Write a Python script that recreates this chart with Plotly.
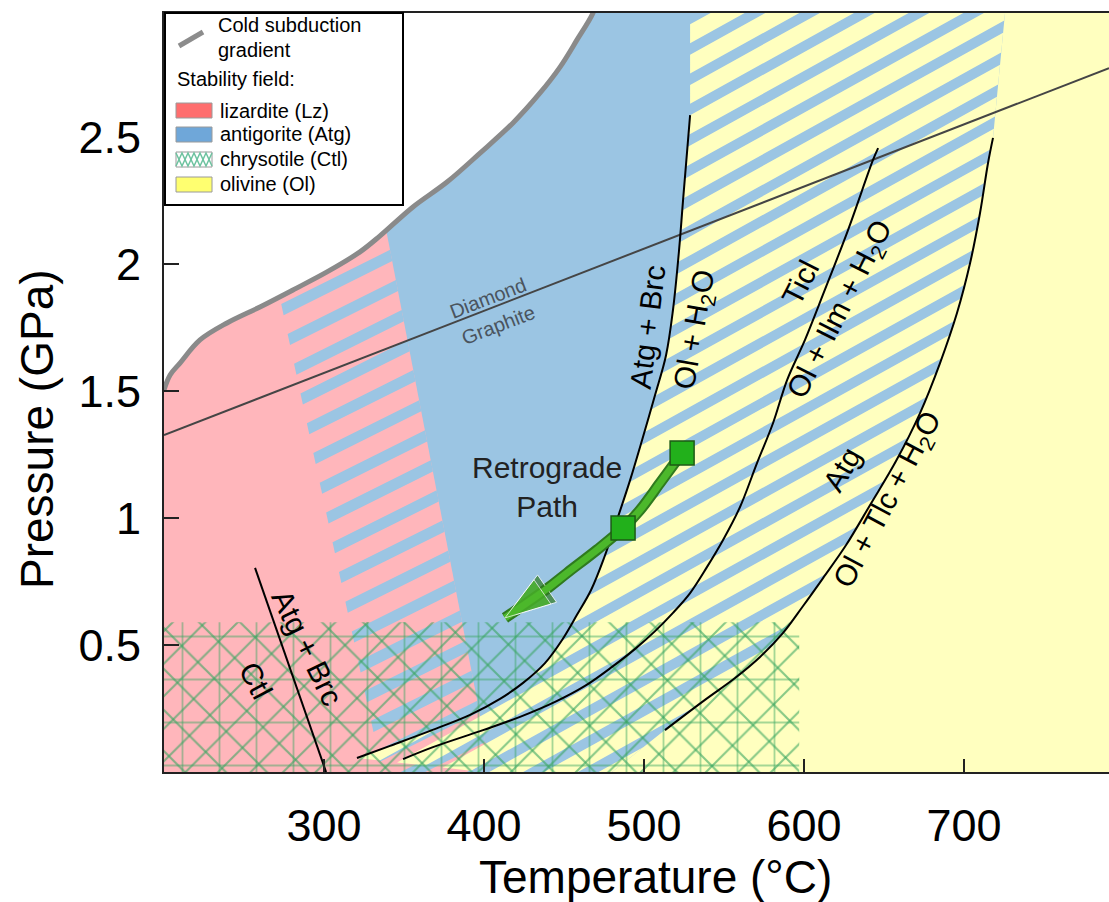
import math
import plotly.graph_objects as go

# ---------------- values ----------------
T_MIN, T_MAX = 200.0, 790.6
P_MIN, P_MAX = 0.0, 2.99

x_ticks = [300, 400, 500, 600, 700]
y_ticks = [0.5, 1, 1.5, 2, 2.5]
y_tick_text = ["0.5", "1", "1.5", "2", "2.5"]

# cold subduction gradient
grad_T = [200, 203.8, 210, 222.5, 239.4, 260, 280.6, 301.9, 322.5, 335, 355.6,
          376.9, 397.5, 418.1, 435, 447.5, 458.1, 468.1, 471]
grad_P = [1.505, 1.564, 1.611, 1.702, 1.769, 1.832, 1.899, 1.970, 2.049, 2.112, 2.226,
          2.324, 2.438, 2.557, 2.675, 2.777, 2.884, 2.990, 3.05]

# diamond / graphite transition
dg_T = [200, 790.6]
dg_P = [1.327, 2.773]

# Atg + Brc = Ol + H2O
c1_T = [528.8, 524.4, 521.9, 518.1, 513.8, 506.9, 498.8, 491.3, 483.1, 475.0,
        466.9, 458.1, 448.8, 438.1, 424.4, 410.0, 391.3, 366.3, 341.3, 320.6]
c1_P = [2.588, 2.253, 2.056, 1.820, 1.643, 1.485, 1.308, 1.150, 0.993, 0.843,
        0.717, 0.619, 0.520, 0.429, 0.351, 0.288, 0.225, 0.162, 0.103, 0.055]

# Ticl = Ol + Ilm + H2O
c2_T = [646.3, 643.1, 627.5, 612.5, 600.6, 589.4, 580.6, 570.6, 560.0, 549.4, 539.4,
        528.8, 518.1, 506.9, 495.0, 480.0, 463.1, 444.4, 422.5, 399.4, 368.1, 349.4]
c2_P = [2.458, 2.411, 2.135, 1.891, 1.702, 1.544, 1.374, 1.217, 1.044, 0.914, 0.808,
        0.705, 0.627, 0.555, 0.488, 0.414, 0.339, 0.276, 0.217, 0.165, 0.098, 0.051]

# Atg = Ol + Tlc + H2O
c3_T = [718.1, 715.0, 710.0, 703.8, 695.6, 685.0, 672.5, 657.5, 641.3, 626.3,
        611.9, 599.4, 586.9, 572.5, 556.9, 538.1, 513.1]
c3_P = [2.498, 2.399, 2.202, 2.005, 1.808, 1.611, 1.414, 1.225, 1.052, 0.894,
        0.764, 0.654, 0.548, 0.453, 0.370, 0.284, 0.165]

# Atg + Brc = Ctl
ctl_T = [256.9, 301.3]
ctl_P = [0.804, 0.0]

# field outlines
lz_edge_T = [404.4, 312.6]                  # right edge of the lizardite field (P = 0 .. P_MAX)
lz_band_T = [273.1, 341.3, 404.4, 336.3]    # Lz -> Atg transition band
lz_band_P = [1.848, 2.057, 0.0, 0.0]
atg_top_T = [528.8, 725.6]                  # Atg -> Ol band corners at the top
atg_foot_T = [399.4, 480.0]                 # Atg -> Ol band feet at P = 0
ctl_field_T = [200, 597]
ctl_field_P = [0.0, 0.59]

# retrograde path
retro_T = [523.8, 510.0, 497.5, 486.9, 470.6, 451.9, 440.0, 413.1]
retro_P = [1.257, 1.138, 1.032, 0.961, 0.875, 0.784, 0.725, 0.607]
sq_T = [523.8, 486.9]
sq_P = [1.257, 0.961]

# legend entries
legend_fields = ["lizardite (Lz)", "antigorite (Atg)", "chrysotile (Ctl)", "olivine (Ol)"]
legend_colors = ["#ff6e6e", "#6fa7d9", "white", "#ffff70"]

# ---------------- style ----------------
W, H = 1109, 902
ML, MR, MT, MB = 164, 0, 13, 130
PW, PH = W - ML - MR, H - MT - MB
FONT = "Liberation Sans, Arial, sans-serif"
PINK, BLUE, YELLOW = "#ffb6bb", "#9bc5e3", "#ffffbf"
MESH = "rgb(55,165,95)"


def to_px(t, p):
    return ((t - T_MIN) / (T_MAX - T_MIN) * PW, (P_MAX - p) / (P_MAX - P_MIN) * PH)


def to_data(x, y):
    return (T_MIN + x / PW * (T_MAX - T_MIN), P_MAX - y / PH * (P_MAX - P_MIN))


def pp(x, y):
    """page pixel -> paper coordinates"""
    return ((x - ML) / PW, (MT + PH - y) / PH)


def clip_half(poly, nx, ny, sgn, c):
    out = []
    n = len(poly)
    for i in range(n):
        p, q = poly[i], poly[(i + 1) % n]
        fp = sgn * (nx * p[0] + ny * p[1] - c)
        fq = sgn * (nx * q[0] + ny * q[1] - c)
        if fp >= 0:
            out.append(p)
        if (fp >= 0) != (fq >= 0):
            t = fp / (fp - fq)
            out.append((p[0] + t * (q[0] - p[0]), p[1] + t * (q[1] - p[1])))
    return out


def stripes(Ts, Ps, angle, period, width, anchor=None):
    nx, ny = math.sin(math.radians(angle)), math.cos(math.radians(angle))
    poly = [to_px(t, p) for t, p in zip(Ts, Ps)]
    s0 = 0.0 if anchor is None else nx * poly[anchor][0] + ny * poly[anchor][1]
    svals = [nx * x + ny * y for x, y in poly]
    k0 = math.floor((min(svals) - s0) / period) - 1
    k1 = math.ceil((max(svals) - s0) / period) + 1
    xs, ys = [], []
    for k in range(k0, k1 + 1):
        a = s0 + k * period
        piece = clip_half(clip_half(poly, nx, ny, 1, a), nx, ny, -1, a + width)
        if len(piece) >= 3:
            for x, y in piece + [piece[0]]:
                t, p = to_data(x, y)
                xs.append(t)
                ys.append(p)
            xs.append(None)
            ys.append(None)
    return xs, ys


fig = go.Figure()


def fill_trace(xs, ys, color, **kw):
    fig.add_trace(go.Scatter(x=xs, y=ys, mode="lines", fill="toself", fillcolor=color,
                             line=dict(width=0), hoverinfo="skip", showlegend=False, **kw))


# olivine background
fill_trace([T_MIN, T_MAX, T_MAX, T_MIN], [P_MIN, P_MIN, P_MAX, P_MAX], YELLOW)
# antigorite
fill_trace([T_MIN, T_MIN, atg_top_T[1]] + c3_T + [atg_foot_T[1]],
           [P_MIN, P_MAX, P_MAX] + c3_P + [P_MIN], BLUE)
# lizardite
fill_trace([T_MIN, lz_edge_T[0], lz_edge_T[1], T_MIN], [P_MIN, P_MIN, P_MAX, P_MAX], PINK)
# Lz/Atg transition stripes
sx, sy = stripes(lz_band_T, lz_band_P, 26.5, 29.5, 11, anchor=1)
fill_trace(sx, sy, BLUE)
# Atg/Ol transition stripes
band_T = [atg_top_T[0], atg_top_T[1]] + c3_T + [atg_foot_T[1], atg_foot_T[0]] + c1_T[::-1]
band_P = [P_MAX, P_MAX] + c3_P + [P_MIN, P_MIN] + c1_P[::-1]
sx, sy = stripes(band_T, band_P, 29, 26.5, 16.5)
fill_trace(sx, sy, YELLOW)
# white region above the cold subduction gradient
fill_trace(grad_T + [grad_T[-1], T_MIN - 10, T_MIN - 10],
           grad_P + [3.3, 3.3, grad_P[0]], "white")
# chrysotile texture
rect_T = [ctl_field_T[0], ctl_field_T[1], ctl_field_T[1], ctl_field_T[0], ctl_field_T[0]]
rect_P = [ctl_field_P[0], ctl_field_P[0], ctl_field_P[1], ctl_field_P[1], ctl_field_P[0]]
for shp, sz, sol, op in [("/", 23, 0.09, 0.6), ("\\", 29, 0.075, 0.6),
                         ("|", 37, 0.05, 0.45), ("-", 43, 0.045, 0.45)]:
    fill_trace(rect_T, rect_P, "rgba(0,0,0,0)",
               fillpattern=dict(shape=shp, fgcolor=MESH, fgopacity=op,
                                bgcolor="rgba(0,0,0,0)", size=sz, solidity=sol))

# lines
fig.add_trace(go.Scatter(x=dg_T, y=dg_P, mode="lines", line=dict(color="#454545", width=2),
                         hoverinfo="skip", showlegend=False))
for Ts, Ps in [(c1_T, c1_P), (c2_T, c2_P), (c3_T, c3_P), (ctl_T, ctl_P)]:
    fig.add_trace(go.Scatter(x=Ts, y=Ps, mode="lines", line=dict(color="black", width=2),
                             line_shape="spline", hoverinfo="skip", showlegend=False))
fig.add_trace(go.Scatter(x=grad_T, y=grad_P, mode="lines", line=dict(color="#8a8a8a", width=5),
                         line_shape="spline", hoverinfo="skip", showlegend=False))

# retrograde path arrow
n = len(retro_T)
fig.add_trace(go.Scatter(x=retro_T, y=retro_P, mode="lines+markers", line_shape="spline",
                         line=dict(color="#2f7a1f", width=11),
                         marker=dict(symbol="arrow", size=[0] * (n - 1) + [54], angleref="previous",
                                     color="#2f7a1f"),
                         hoverinfo="skip", showlegend=False))
fig.add_trace(go.Scatter(x=retro_T, y=retro_P, mode="lines+markers", line_shape="spline",
                         line=dict(color="#4cb82b", width=7),
                         marker=dict(symbol="arrow", size=[0] * (n - 1) + [48], angleref="previous",
                                     color="#4cb82b"),
                         hoverinfo="skip", showlegend=False))
fig.add_trace(go.Scatter(x=sq_T, y=sq_P, mode="markers",
                         marker=dict(symbol="square", size=24, color="#22b01b",
                                     line=dict(color="#1d5a14", width=1.5)),
                         hoverinfo="skip", showlegend=False))

# ---------------- hand-built legend ----------------
shapes = []
ann = []
x0, y0 = pp(165, 13)
x1, y1 = pp(403, 205)
shapes.append(dict(type="rect", xref="paper", yref="paper", x0=x0, y0=y1, x1=x1, y1=y0,
                   fillcolor="white", line=dict(color="black", width=2), layer="above"))
a0, b0 = pp(179, 46)
a1, b1 = pp(203, 32)
shapes.append(dict(type="line", xref="paper", yref="paper", x0=a0, y0=b0, x1=a1, y1=b1,
                   line=dict(color="#8c8c8c", width=5), layer="above"))


def legend_text(txt, x, y):
    px_, py_ = pp(x, y)
    ann.append(dict(text=txt, x=px_, y=py_, xref="paper", yref="paper", showarrow=False,
                    xanchor="left", yanchor="middle", font=dict(size=20, family=FONT, color="black")))


legend_text("Cold subduction", 216, 25)
legend_text("gradient", 216, 50)
legend_text("Stability field:", 175, 79)
sw_top = [103, 127, 152, 177]
for name, col, top in zip(legend_fields, legend_colors, sw_top):
    u0, v0 = pp(176, top)
    u1, v1 = pp(212, top + 15)
    shapes.append(dict(type="rect", xref="paper", yref="paper", x0=u0, y0=v1, x1=u1, y1=v0,
                       fillcolor=col, line=dict(color="#9a9a9a", width=1), layer="above"))
    if col == "white":
        for phase in (0, 1):
            pts = []
            for i in range(7):
                yy = top + 1 if (i + phase) % 2 else top + 14
                pts.append(pp(176 + i * 6, yy))
            path = "M" + " L".join(f"{u:.5f},{v:.5f}" for u, v in pts)
            shapes.append(dict(type="path", xref="paper", yref="paper", path=path,
                               line=dict(color="rgb(110,195,160)", width=1.5), layer="above"))
    legend_text(name, 218, top + 7.5)

# ---------------- labels ----------------
LBL = 30
labels = [
    ("Atg + Brc", 501.9, 1.753, -83, LBL, "black"),
    ("Ol + H<sub>2</sub>O", 531.9, 1.741, -80, LBL, "black"),
    ("Ticl", 597.5, 1.930, -63, LBL, "black"),
    ("Ol + Ilm + H<sub>2</sub>O", 622.5, 1.820, -63, LBL, "black"),
    ("Atg", 623.8, 1.190, -60, LBL, "black"),
    ("Ol + Tlc + H<sub>2</sub>O", 652.5, 1.071, -62, LBL, "black"),
    ("Atg + Brc", 289.4, 0.489, 64, LBL, "black"),
    ("Ctl", 257.5, 0.362, 62, LBL, "black"),
    ("Retrograde<br>Path", 439.4, 1.123, 0, LBL, "#222222"),
    ("Diamond", 402.5, 1.867, -21, 20, "#4a545e"),
    ("Graphite", 408.8, 1.761, -21, 20, "#4a545e"),
]
for txt, t, p, ang, sz, col in labels:
    ann.append(dict(text=txt, x=t, y=p, xref="x", yref="y", showarrow=False, textangle=ang,
                    xanchor="center", yanchor="middle",
                    font=dict(size=sz, family=FONT, color=col)))
tx, ty = pp(655, 877)
ann.append(dict(text="Temperature (°C)", x=tx, y=ty, xref="paper", yref="paper", showarrow=False,
                xanchor="center", yanchor="middle", font=dict(size=46, family=FONT, color="black")))
tx, ty = pp(37, 429)
ann.append(dict(text="Pressure (GPa)", x=tx, y=ty, xref="paper", yref="paper", showarrow=False,
                xanchor="center", yanchor="middle", textangle=-90,
                font=dict(size=46, family=FONT, color="black")))

fig.update_layout(
    width=W, height=H, margin=dict(l=ML, r=MR, t=MT, b=MB),
    paper_bgcolor="white", plot_bgcolor="white",
    font=dict(family=FONT, color="black"),
    showlegend=False,
    shapes=shapes,
    annotations=ann,
    xaxis=dict(range=[T_MIN, T_MAX], tickvals=x_ticks, ticks="inside", ticklen=13, tickwidth=2,
               tickcolor="#222", showline=True, linecolor="#222", linewidth=2, mirror=True,
               showgrid=False, zeroline=False, tickfont=dict(size=45), ticklabelstandoff=13),
    yaxis=dict(range=[P_MIN, P_MAX], tickvals=y_ticks, ticktext=y_tick_text, ticks="inside",
               ticklen=15, tickwidth=2, tickcolor="#222", showline=True, linecolor="#222",
               linewidth=2, showgrid=False, zeroline=False, tickfont=dict(size=45),
               ticklabelstandoff=12),
)

fig.write_html("out.html", config={"displayModeBar": False},
               post_script="document.body.style.margin='0';")
